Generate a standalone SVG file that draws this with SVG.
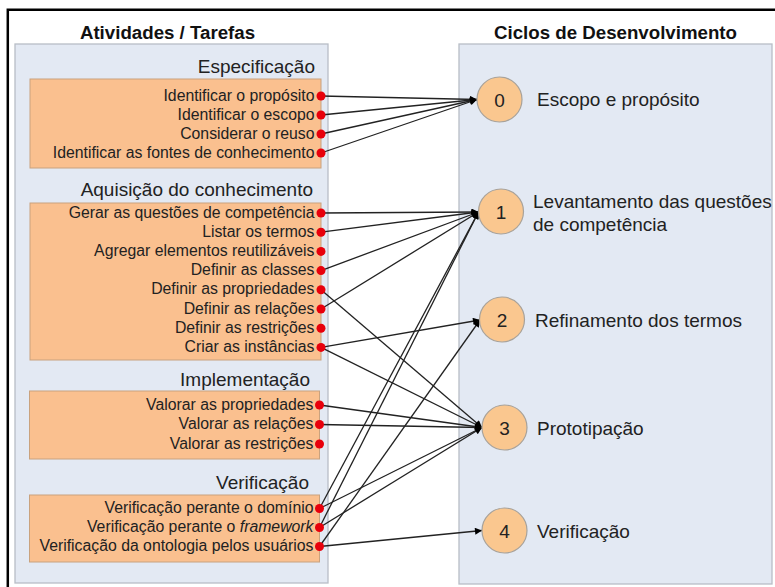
<svg xmlns="http://www.w3.org/2000/svg" width="775" height="587" viewBox="0 0 775 587">
<defs>
<marker id="arr" viewBox="0 0 10 10" refX="10" refY="5" markerWidth="8" markerHeight="7" markerUnits="userSpaceOnUse" orient="auto">
<path d="M0,0 L10,5 L0,10 z" fill="#000"/>
</marker>
<style>
.title{font-family:"Liberation Sans",Arial,sans-serif;font-weight:bold;font-size:18.7px;fill:#111;text-anchor:middle}
.head{font-family:"Liberation Sans",Arial,sans-serif;font-size:19px;fill:#222;text-anchor:end}
.item{font-family:"Liberation Sans",Arial,sans-serif;font-size:15.8px;fill:#222;text-anchor:end}
.lab{font-family:"Liberation Sans",Arial,sans-serif;font-size:19px;fill:#222}
.num{font-family:"Liberation Sans",Arial,sans-serif;font-size:19px;fill:#222;text-anchor:middle}
.panel{fill:#E3E9F3;stroke:#B8BDC6;stroke-width:1.3}
.box{fill:#FAC08F;stroke:#C9A27E;stroke-width:1}
.circ{fill:#FAC78F;stroke:#A8A29A;stroke-width:1.2}
.dot{fill:#E8000B}
.conn line{stroke:#222;stroke-width:1.3;marker-end:url(#arr)}
</style>
</defs>
<rect width="775" height="587" fill="#fff"/>
<path d="M7.8,587 V9.7 H775" fill="none" stroke="#000" stroke-width="2.5"/>

<g id="left-panel">
<text class="title" x="167.5" y="38.5">Atividades / Tarefas</text>
<rect class="panel" x="15" y="44" width="313" height="539"/>
</g>

<g id="right-panel">
<text class="title" x="615.5" y="38.5">Ciclos de Desenvolvimento</text>
<rect class="panel" x="459" y="44" width="313" height="540"/>
</g>

<g id="connectors" class="conn">
<line x1="321" y1="96" x2="477" y2="99.5"/>
<line x1="321" y1="115" x2="477" y2="99.5"/>
<line x1="321" y1="134" x2="477" y2="99.5"/>
<line x1="321" y1="153" x2="477" y2="99.5"/>
<line x1="321" y1="213" x2="478.5" y2="212"/>
<line x1="321" y1="232.2" x2="478.5" y2="212"/>
<line x1="321" y1="270.6" x2="478.5" y2="212"/>
<line x1="321" y1="309" x2="478.5" y2="212"/>
<line x1="321" y1="289.8" x2="482" y2="427.5"/>
<line x1="321" y1="347.4" x2="480" y2="320"/>
<line x1="321" y1="347.4" x2="482" y2="427.5"/>
<line x1="319.5" y1="405" x2="482" y2="427.5"/>
<line x1="319.5" y1="424.5" x2="482" y2="427.5"/>
<line x1="319.5" y1="508.5" x2="478.5" y2="212"/>
<line x1="319.5" y1="508.5" x2="482" y2="427.5"/>
<line x1="319.5" y1="527.5" x2="478.5" y2="212"/>
<line x1="319.5" y1="527.5" x2="482" y2="427.5"/>
<line x1="319.5" y1="546.5" x2="480" y2="320"/>
<line x1="319.5" y1="546.5" x2="482" y2="530.5"/>
</g>

<g id="especificacao">
<text class="head" x="315" y="73">Especificação</text>
<rect class="box" x="30" y="79" width="291" height="89"/>
<text class="item" x="314.5" y="100.5">Identificar o propósito</text>
<text class="item" x="314.5" y="119.5">Identificar o escopo</text>
<text class="item" x="314.5" y="138.5">Considerar o reuso</text>
<text class="item" x="314.5" y="157.5">Identificar as fontes de conhecimento</text>
<circle class="dot" cx="321" cy="96" r="4.5"/>
<circle class="dot" cx="321" cy="115" r="4.5"/>
<circle class="dot" cx="321" cy="134" r="4.5"/>
<circle class="dot" cx="321" cy="153" r="4.5"/>
</g>

<g id="aquisicao">
<text class="head" x="313" y="195.5">Aquisição do conhecimento</text>
<rect class="box" x="30" y="203" width="291" height="157"/>
<text class="item" x="314.5" y="217.5">Gerar as questões de competência</text>
<text class="item" x="314.5" y="236.7">Listar os termos</text>
<text class="item" x="314.5" y="255.9">Agregar elementos reutilizáveis</text>
<text class="item" x="314.5" y="275.1">Definir as classes</text>
<text class="item" x="314.5" y="294.3">Definir as propriedades</text>
<text class="item" x="314.5" y="313.5">Definir as relações</text>
<text class="item" x="314.5" y="332.7">Definir as restrições</text>
<text class="item" x="314.5" y="351.9">Criar as instâncias</text>
<circle class="dot" cx="321" cy="213" r="4.5"/>
<circle class="dot" cx="321" cy="232.2" r="4.5"/>
<circle class="dot" cx="321" cy="251.4" r="4.5"/>
<circle class="dot" cx="321" cy="270.6" r="4.5"/>
<circle class="dot" cx="321" cy="289.8" r="4.5"/>
<circle class="dot" cx="321" cy="309" r="4.5"/>
<circle class="dot" cx="321" cy="328.2" r="4.5"/>
<circle class="dot" cx="321" cy="347.4" r="4.5"/>
</g>

<g id="implementacao">
<text class="head" x="310" y="386">Implementação</text>
<rect class="box" x="29.5" y="391" width="290" height="68"/>
<text class="item" x="313.5" y="409.5">Valorar as propriedades</text>
<text class="item" x="313.5" y="429">Valorar as relações</text>
<text class="item" x="313.5" y="448.5">Valorar as restrições</text>
<circle class="dot" cx="319.5" cy="405" r="4.5"/>
<circle class="dot" cx="319.5" cy="424.5" r="4.5"/>
<circle class="dot" cx="319.5" cy="444" r="4.5"/>
</g>

<g id="verificacao">
<text class="head" x="309" y="489">Verificação</text>
<rect class="box" x="29.5" y="495" width="290" height="67"/>
<text class="item" x="313.5" y="513">Verificação perante o domínio</text>
<text class="item" x="313.5" y="532">Verificação perante o <tspan font-style="italic">framework</tspan></text>
<text class="item" x="313.5" y="551">Verificação da ontologia pelos usuários</text>
<circle class="dot" cx="319.5" cy="508.5" r="4.5"/>
<circle class="dot" cx="319.5" cy="527.5" r="4.5"/>
<circle class="dot" cx="319.5" cy="546.5" r="4.5"/>
</g>

<g id="ciclo0">
<circle class="circ" cx="499.5" cy="99.5" r="22.5"/>
<text class="num" x="499.5" y="106.5">0</text>
<text class="lab" x="537" y="106">Escopo e propósito</text>
</g>
<g id="ciclo1">
<circle class="circ" cx="501" cy="211.5" r="22.5"/>
<text class="num" x="501" y="218.5">1</text>
<text class="lab" x="533" y="208.3">Levantamento das questões</text>
<text class="lab" x="533" y="230.7">de competência</text>
</g>
<g id="ciclo2">
<circle class="circ" cx="502" cy="319.5" r="22.5"/>
<text class="num" x="502" y="326.5">2</text>
<text class="lab" x="535" y="326.7">Refinamento dos termos</text>
</g>
<g id="ciclo3">
<circle class="circ" cx="504.5" cy="427.5" r="22.5"/>
<text class="num" x="504.5" y="434.5">3</text>
<text class="lab" x="537" y="435">Prototipação</text>
</g>
<g id="ciclo4">
<circle class="circ" cx="504.5" cy="530.5" r="22.5"/>
<text class="num" x="504.5" y="537.5">4</text>
<text class="lab" x="537" y="538">Verificação</text>
</g>
</svg>
